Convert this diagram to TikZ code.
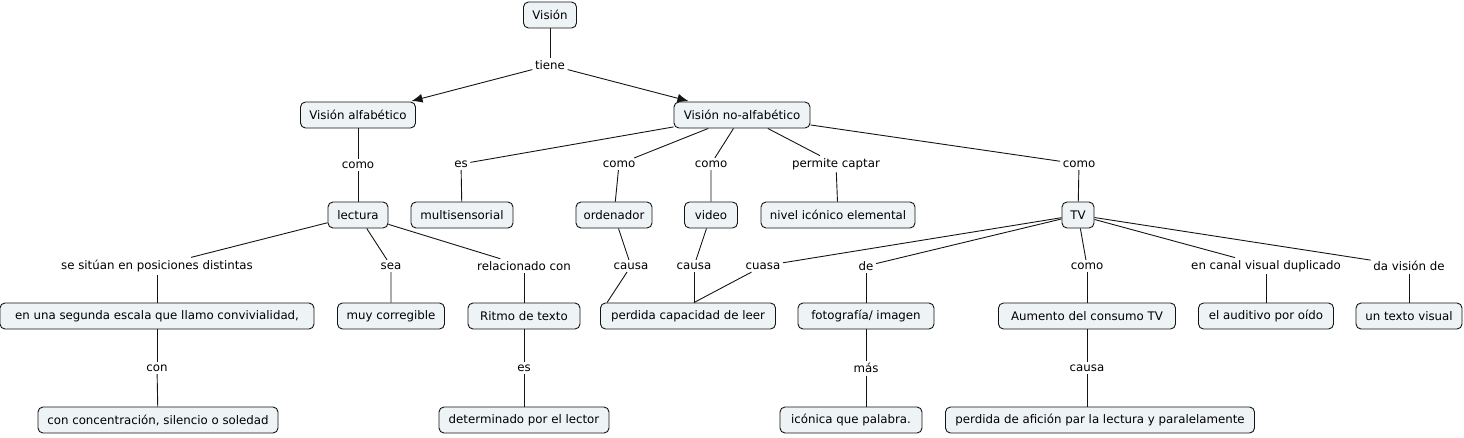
\documentclass[tikz,border=0pt]{standalone}
\usepackage{fontspec}
\setmainfont{DejaVu Sans}
\usetikzlibrary{arrows.meta,calc}
\definecolor{boxfill}{RGB}{238,243,245}
\definecolor{edge}{RGB}{20,20,20}
\begin{document}
\begin{tikzpicture}[x=1pt,y=-1pt,
  concept/.style={draw=edge,fill=boxfill,rounded corners=5pt,line width=0.9pt,
    minimum height=26pt,inner xsep=4pt,inner ysep=0pt,font=\fontsize{11.8}{13}\selectfont},
  lbl/.style={inner sep=2.5pt,font=\fontsize{11.8}{13}\selectfont},
  link/.style={draw=edge,line width=0.9pt},
  arr/.style={link,-{Latex[length=11pt,width=9pt]},shorten >=2pt}]
\useasboundingbox (0,0) rectangle (1464,437);
% concepts
\node[concept,minimum width=53pt] (v) at (550,15) {Visión};
\node[concept,minimum width=115pt] (va) at (358,115) {Visión alfabético};
\node[concept,minimum width=136pt] (vn) at (742,115) {Visión no-alfabético};
\node[concept,minimum width=60pt] (lec) at (358,215) {lectura};
\node[concept,minimum width=314pt] (esc) at (157,316) {en una segunda escala que llamo convivialidad,\hspace{12pt}};
\node[concept,minimum width=240pt] (cc) at (158,420) {con concentración, silencio o soledad};
\node[concept,minimum width=107pt] (mc) at (391,316) {muy corregible};
\node[concept,minimum width=112pt] (rt) at (524,316) {Ritmo de texto};
\node[concept,minimum width=170pt] (det) at (524,420) {determinado por el lector};
\node[concept,minimum width=102pt] (ms) at (462,215) {multisensorial};
\node[concept,minimum width=76pt] (ord) at (614,215) {ordenador};
\node[concept,minimum width=53pt] (vid) at (711,215) {video};
\node[concept,minimum width=154pt] (nie) at (838,215) {nivel icónico elemental};
\node[concept,minimum width=32pt] (tv) at (1078,215) {TV};
\node[concept,minimum width=175pt] (pc) at (688,316) {perdida capacidad de leer};
\node[concept,minimum width=136pt] (foto) at (866,316) {fotografía/ imagen};
\node[concept,minimum width=142pt] (ico) at (851,420) {icónica que palabra.};
\node[concept,minimum width=177pt] (aum) at (1087,316) {Aumento del consumo TV};
\node[concept,minimum width=309pt] (paf) at (1100,420) {perdida de afición par la lectura y paralelamente};
\node[concept,minimum width=135pt] (aud) at (1266,316) {el auditivo por oído};
\node[concept,minimum width=106pt] (utv) at (1409,316) {un texto visual};
% link labels
\node[lbl] (tiene) at (550,65) {tiene};
\node[lbl] (como1) at (358,165) {como};
\node[lbl] (sit) at (157,266) {se sitúan en posiciones distintas};
\node[lbl] (sea) at (391,266) {sea};
\node[lbl] (rel) at (524,266) {relacionado con};
\node[lbl] (con) at (157,368) {con};
\node[lbl] (es2) at (524,368) {es};
\node[lbl] (es1) at (461,164) {es};
\node[lbl] (como2) at (619,164) {como};
\node[lbl] (como3) at (711,164) {como};
\node[lbl] (perm) at (836,164) {permite captar};
\node[lbl] (como4) at (1079,164) {como};
\node[lbl] (ca1) at (631,266) {causa};
\node[lbl] (ca2) at (694,266) {causa};
\node[lbl] (cua) at (763,266) {cuasa};
\node[lbl] (de) at (866,266) {de};
\node[lbl] (mas) at (866,368) {más};
\node[lbl] (como5) at (1087,266) {como};
\node[lbl] (ca3) at (1087,368) {causa};
\node[lbl] (canal) at (1266,266) {en canal visual duplicado};
\node[lbl] (da) at (1409,266) {da visión de};
% connectors
\draw[link] (v) -- (tiene);
\draw[arr] (tiene) -- (va);
\draw[arr] (tiene) -- (vn);
\draw[link] (va) -- (como1) -- (lec);
\draw[link] (lec) -- (sit);
\draw[link] (sit) -- (esc);
\draw[link] (esc) -- (con);
\draw[link] (con) -- (cc);
\draw[link] (lec) -- (sea) -- (mc);
\draw[link] (lec) -- (rel);
\draw[link] (rel) -- (rt);
\draw[link] (rt) -- (es2) -- (det);
\draw[link] (vn) -- (es1);
\draw[link] (es1) -- (ms);
\draw[link] (vn) -- (como2);
\draw[link] (como2) -- (ord);
\draw[link] (vn) -- (como3) -- (vid);
\draw[link] (vn) -- (perm);
\draw[link] (perm) -- (nie);
\draw[link] (vn) -- (como4);
\draw[link] (como4) -- (tv);
\draw[link] (ord) -- (ca1);
\draw[link] (ca1) -- ([xshift=7pt]pc.north west);
\draw[link] (vid) -- (ca2);
\draw[link] (ca2) -- ([xshift=6pt]pc.north);
\draw[link] (tv) -- (cua);
\draw[link] (cua) -- ([xshift=6pt]pc.north);
\draw[link] (tv) -- (de);
\draw[link] (de) -- (foto);
\draw[link] (foto) -- (mas);
\draw[link] (mas) -- (mas |- ico.north);
\draw[link] (tv) -- (como5);
\draw[link] (como5) -- (aum);
\draw[link] (aum) -- (ca3);
\draw[link] (ca3) -- (ca3 |- paf.north);
\draw[link] (tv) -- (canal);
\draw[link] (canal) -- (aud);
\draw[link] (tv) -- (da);
\draw[link] (da) -- (utv);
\end{tikzpicture}
\end{document}
